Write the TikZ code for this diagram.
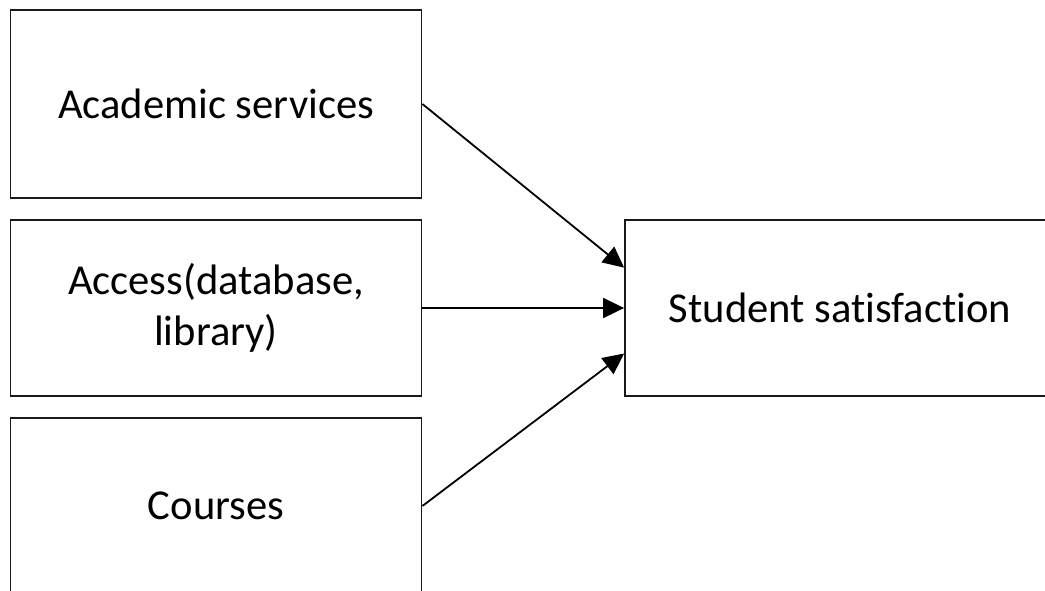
\documentclass[tikz,border=0pt]{standalone}
\usepackage{fontspec}
\setmainfont{Carlito}[Ligatures=NoCommon]
\usetikzlibrary{arrows.meta,calc}
\begin{document}
\begin{tikzpicture}[x=1pt,y=-1pt,
  boxnode/.style={draw=black!90,line width=1.8pt,fill=white,minimum width=411pt,inner sep=0pt,
    align=center,font=\fontsize{42.6}{51}\selectfont},
  conn/.style={line width=1.8pt,-{Triangle[length=21pt,width=20pt]}}]
\useasboundingbox (0,0) rectangle (1045,590);
\clip (0,0) rectangle (1045,590);
\fill[white] (0,0) rectangle (1045,590);
\node[boxnode,minimum height=188pt] (acad) at (216,104) {Academic services};
\node[boxnode,minimum height=176pt] (acc) at (216,308) {Access(database,\\library)};
\node[boxnode,minimum height=176pt] (cour) at (216,506) {Courses};
\node[boxnode,minimum width=430pt,minimum height=176pt] (sat) at (840,308) {Student satisfaction};
\draw[conn] (acad.east) -- ($(sat.north west)!0.273!(sat.south west)$);
\draw[conn] (acc.east) -- (sat.west);
\draw[conn] (cour.east) -- ($(sat.north west)!0.756!(sat.south west)$);
\end{tikzpicture}
\end{document}
